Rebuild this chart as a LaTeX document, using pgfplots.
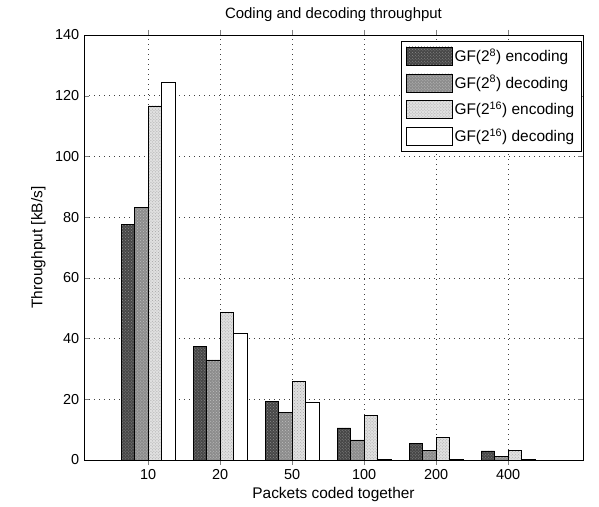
\documentclass[border=0pt]{standalone}
\usepackage{fontspec}
\setmainfont{Liberation Sans}
\usepackage{pgfplots}
\pgfplotsset{compat=1.18}
\usetikzlibrary{patterns}

\definecolor{encA}{gray}{0.28}
\definecolor{decA}{gray}{0.55}
\definecolor{encB}{gray}{0.88}

\begin{document}
\fontsize{14}{16}\selectfont
\begin{tikzpicture}
\begin{axis}[
    scale only axis,
    width=499bp, height=425bp,
    xmin=0.11, xmax=7.04,
    ymin=0, ymax=140,
    ytick={0,20,...,140},
    xtick={1,2,3,4,5,6},
    xticklabels={10,20,50,100,200,400},
    tick align=inside,
    major tick length=5bp,
    grid=major,
    major grid style={black!75, line width=0.5bp, dash pattern=on 0.8bp off 4.2bp},
    axis line style={black},
    /pgf/number format/assume math mode=true,
    tick label style={font=\fontsize{14.5}{16}\selectfont},
    title={Coding and decoding throughput},
    title style={font=\fontsize{15}{17}\selectfont, yshift=3bp},
    xlabel={Packets coded together},
    ylabel={Throughput [kB/s]},
    xlabel style={font=\fontsize{15.5}{17}\selectfont, yshift=2bp},
    ylabel style={font=\fontsize{15.5}{17}\selectfont},
    ybar,
    bar width=0.1875,
    legend cell align=left,
    legend style={at={(0.997,0.985)}, anchor=north east, draw=black,
        font=\fontsize{15.5}{18}\selectfont, row sep=8bp,
        inner xsep=5bp, inner ysep=5bp},
    legend image code/.code={\draw[#1] (0bp,-9bp) rectangle (46bp,9bp);},
]
\addplot[draw=black, fill=encA, postaction={pattern=crosshatch dots, pattern color=black!45}, bar shift=-0.28125]
    coordinates {(1,77.7) (2,37.5) (3,19.4) (4,10.6) (5,5.4) (6,3.0)};
\addplot[draw=black, fill=decA, postaction={pattern=crosshatch dots, pattern color=white!75!black}, bar shift=-0.09375]
    coordinates {(1,83.3) (2,33.0) (3,15.8) (4,6.6) (5,3.1) (6,1.3)};
\addplot[draw=black, fill=encB, postaction={pattern=crosshatch dots, pattern color=black!35}, bar shift=0.09375]
    coordinates {(1,116.7) (2,48.7) (3,25.9) (4,14.7) (5,7.5) (6,3.1)};
\addplot[draw=black, fill=white, bar shift=0.28125]
    coordinates {(1,124.4) (2,41.8) (3,18.9) (4,0.1) (5,0.1) (6,0.1)};
\legend{GF(2\textsuperscript{8}) encoding, GF(2\textsuperscript{8}) decoding, GF(2\textsuperscript{16}) encoding, GF(2\textsuperscript{16}) decoding}
\end{axis}
\path (current axis.south west) ++(-84bp,-44bp);
\path (current axis.north east) ++(16bp,35bp);
\end{tikzpicture}
\end{document}
